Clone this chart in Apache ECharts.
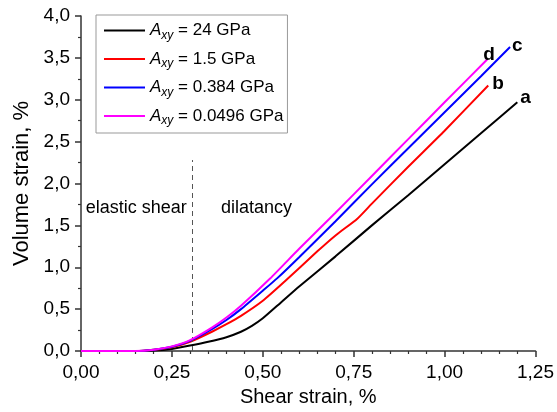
<!DOCTYPE html>
<html>
<head>
<meta charset="utf-8">
<script src="https://cdn.jsdelivr.net/npm/echarts@6/dist/echarts.min.js"></script>
<style>
  html, body { margin: 0; padding: 0; background: #fff; }
  #chart { width: 557px; height: 412px; }
</style>
</head>
<body>
<div id="chart"></div>
<script>
// [shear strain %, volume strain %]
const curveA = [[0, 0], [0.15, 0], [0.2, 0.005], [0.25, 0.025], [0.3, 0.065], [0.35, 0.11], [0.4, 0.165], [0.44, 0.23], [0.47, 0.3], [0.5, 0.39], [0.55, 0.58], [0.6, 0.77], [0.7, 1.13], [0.8, 1.5], [0.9, 1.86], [1.0, 2.23], [1.1, 2.6], [1.2, 2.97]];
const curveB = [[0, 0], [0.15, 0], [0.2, 0.015], [0.25, 0.045], [0.3, 0.11], [0.36, 0.23], [0.4, 0.32], [0.44, 0.42], [0.5, 0.6], [0.56, 0.83], [0.65, 1.19], [0.7, 1.38], [0.76, 1.58], [0.8, 1.76], [0.9, 2.2], [1.0, 2.63], [1.12, 3.17]];
const curveC = [[0, 0], [0.15, 0], [0.2, 0.015], [0.25, 0.05], [0.3, 0.12], [0.36, 0.26], [0.4, 0.37], [0.44, 0.5], [0.5, 0.72], [0.54, 0.87], [0.6, 1.12], [0.7, 1.55], [0.8, 1.99], [0.9, 2.42], [1.0, 2.85], [1.1, 3.28], [1.18, 3.63]];
const curveD = [[0, 0], [0.15, 0], [0.2, 0.015], [0.25, 0.055], [0.3, 0.13], [0.36, 0.28], [0.4, 0.4], [0.44, 0.54], [0.52, 0.865], [0.6, 1.22], [0.7, 1.65], [0.8, 2.09], [0.9, 2.53], [1.0, 2.97], [1.117, 3.48]];

const modulusNames = ["24 GPa", "1.5 GPa", "0.384 GPa", "0.0496 GPa"];
const curveLetters = ["a", "b", "c", "d"];
const lineColors = ["#000000", "#ff0000", "#0000ff", "#ff00ff"];
const boundaryStrain = 0.305;

const font = 'Arial, "Liberation Sans", sans-serif';
const chart = echarts.init(document.getElementById("chart"));

const letterOffsets = [[-5, -4], [-4, -2], [-6, -1], [-12, -5]];
const curves = [curveA, curveB, curveC, curveD];

const series = curves.map((data, i) => ({
  name: modulusNames[i],
  type: "line",
  data: data,
  showSymbol: false,
  symbol: "none",
  smooth: 0.2,
  lineStyle: { color: lineColors[i], width: 2 },
  itemStyle: { color: lineColors[i] },
  endLabel: {
    show: true,
    formatter: curveLetters[i],
    color: "#000",
    fontFamily: font,
    fontWeight: "bold",
    fontSize: 19,
    offset: letterOffsets[i],
  },
  z: 2 + i,
}));

// dashed line between the two regions
series[0].markLine = {
  silent: true,
  symbol: "none",
  label: { show: false },
  lineStyle: { color: "#555", type: [5, 4], width: 1 },
  data: [[{ coord: [boundaryStrain, 0] }, { coord: [boundaryStrain, 2.28] }]],
};

chart.setOption({
  animation: false,
  textStyle: { fontFamily: font },
  grid: { left: 81, right: 20, top: 16, bottom: 60 },
  legend: {
    orient: "vertical",
    left: 96,
    top: 15,
    itemWidth: 41,
    itemHeight: 2,
    itemGap: 9,
    icon: "rect",
    padding: [7, 4, 6, 8],
    borderColor: "#999",
    borderWidth: 1,
    data: modulusNames,
    formatter: (name) => "{i|A}{s|xy}{t| = " + name + "}",
    textStyle: {
      rich: {
        i: { fontSize: 17, lineHeight: 22, fontStyle: "italic", fontFamily: font, color: "#000" },
        s: { fontSize: 12, lineHeight: 11, verticalAlign: "bottom", fontStyle: "italic", fontFamily: font, color: "#000" },
        t: { fontSize: 17, lineHeight: 22, fontFamily: font, color: "#000" },
      },
    },
  },
  xAxis: {
    type: "value",
    min: 0,
    max: 1.25,
    interval: 0.25,
    name: "Shear strain, %",
    nameLocation: "middle",
    nameGap: 36,
    nameTextStyle: { fontSize: 20, color: "#000", fontFamily: font },
    axisLine: { lineStyle: { color: "#333", width: 1.5 } },
    axisTick: { inside: false, length: 6, lineStyle: { color: "#333", width: 1.5 } },
    minorTick: { show: true, splitNumber: 5, length: 3, lineStyle: { color: "#333", width: 1.2 } },
    splitLine: { show: false },
    axisLabel: {
      color: "#000",
      fontSize: 19,
      margin: 12,
      formatter: (v) => v.toFixed(2).replace(".", ","),
    },
  },
  yAxis: {
    type: "value",
    min: 0,
    max: 4,
    interval: 0.5,
    name: "Volume strain, %",
    nameLocation: "middle",
    nameGap: 46,
    nameTextStyle: { fontSize: 22, color: "#000", fontFamily: font },
    axisLine: { show: true, lineStyle: { color: "#333", width: 1.5 } },
    axisTick: { show: true, inside: false, length: 6, lineStyle: { color: "#333", width: 1.5 } },
    minorTick: { show: true, splitNumber: 2, length: 3, lineStyle: { color: "#333", width: 1.2 } },
    splitLine: { show: false },
    axisLabel: {
      color: "#000",
      fontSize: 19,
      margin: 11,
      formatter: (v) => v.toFixed(1).replace(".", ","),
    },
  },
  series: series,
});

// region names
const elasticPos = chart.convertToPixel({ gridIndex: 0 }, [0.013, 1.71]);
const dilatPos = chart.convertToPixel({ gridIndex: 0 }, [0.385, 1.71]);
chart.setOption({
  graphic: [
    {
      type: "text",
      x: elasticPos[0],
      y: elasticPos[1],
      style: { text: "elastic shear", fill: "#000", font: "18px " + font, textVerticalAlign: "middle" },
    },
    {
      type: "text",
      x: dilatPos[0],
      y: dilatPos[1],
      style: { text: "dilatancy", fill: "#000", font: "18px " + font, textVerticalAlign: "middle" },
    },
  ],
});
</script>
</body>
</html>
